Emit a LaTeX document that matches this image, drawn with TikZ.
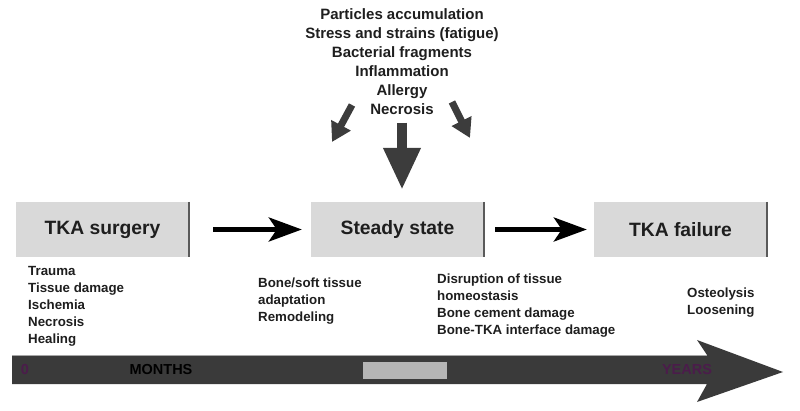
\documentclass[tikz,border=0pt]{standalone}
\usepackage{fontspec}
\setmainfont{Liberation Sans}
\usetikzlibrary{arrows.meta}
\definecolor{txt}{HTML}{1E1E1E}
\definecolor{boxgray}{HTML}{D9D9D9}
\definecolor{edgegray}{HTML}{5A5A5A}
\definecolor{darkarrow}{HTML}{3C3C3C}
\definecolor{band}{HTML}{3A3A3A}
\definecolor{midgray}{HTML}{B5B5B5}
\definecolor{plum}{HTML}{4B1C4B}
\begin{document}
\begin{tikzpicture}[x=1pt,y=-1pt,
  stagebox/.style={fill=boxgray, minimum width=173pt, minimum height=55pt, inner sep=0pt,
    font=\fontsize{19.3}{22}\selectfont\bfseries, text=txt},
  listtext/.style={anchor=north west, align=left, inner sep=0pt,
    font=\fontsize{13.3}{17}\selectfont\bfseries, text=txt},
  causetext/.style={align=center, inner sep=0pt,
    font=\fontsize{15}{19}\selectfont\bfseries, text=txt},
  flowarrow/.style={line width=4.5pt, black, -{Stealth[length=33pt,width=24pt,inset=8pt]}},
  fatarrow/.style={line width=10pt, darkarrow, -{Triangle[length=42pt,width=35pt]}},
  slimarrow/.style={line width=7pt, darkarrow, -{Triangle[length=19pt,width=21pt]}},
  shadowedge/.style={edgegray, line width=1.8pt},
  bandlabel/.style={inner sep=0pt, font=\fontsize{14.5}{16}\selectfont\bfseries}
]
\useasboundingbox (0,0) rectangle (800,411);

% causes
\node[causetext] (causes) at (402,61.4) {Particles accumulation\\Stress and strains (fatigue)\\Bacterial fragments\\Inflammation\\Allergy\\Necrosis};

% stage boxes
\node[stagebox] (surg) at (102.5,229.5) {TKA surgery};
\node[stagebox] (steady) at (397.5,229.5) {Steady state};
\node[stagebox] (fail) at (680.5,229.5) {TKA failure};
\draw[shadowedge] (surg.north east) -- (surg.south east);
\draw[shadowedge] (steady.north east) -- (steady.south east);
\draw[shadowedge] (fail.north east) -- (fail.south east);

% flow arrows
\draw[flowarrow] ([xshift=24pt]surg.east) -- ([xshift=-9pt]steady.west);
\draw[flowarrow] ([xshift=11pt]steady.east) -- ([xshift=-7pt]fail.west);

% cause arrows
\draw[fatarrow] ([yshift=-8pt]causes.south) -- ([xshift=4.5pt,yshift=12pt]steady.north);
\coordinate (lt) at (352,105);
\coordinate (lh) at (332,142);
\coordinate (rt) at (452,102);
\coordinate (rh) at (470,138);
\draw[slimarrow] (lt) -- (lh);
\draw[slimarrow] (rt) -- (rh);

% lists
\node[listtext] (l1) at (28,266.3) {Trauma\\Tissue damage\\Ischemia\\Necrosis\\Healing};
\node[listtext] (l2) at (258,278.1) {Bone/soft tissue\\adaptation\\Remodeling};
\node[listtext] (l3) at (437,274.1) {Disruption of tissue\\homeostasis\\Bone cement damage\\Bone-TKA interface damage};
\node[listtext] (l4) at (687,288.1) {Osteolysis\\Loosening};

% timeline
\fill[band] (12,355) -- (707,355) -- (697,340) -- (783,372) -- (697,402) -- (707,384) -- (12,384) -- cycle;
\draw[gray!70, line width=0.6pt] (12,355) -- (707,355);
\fill[midgray] (363,362) rectangle (447,379);
\node[bandlabel, text=plum] (zero) at (25,370) {0};
\node[bandlabel, text=black] (months) at (161,370) {MONTHS};
\node[bandlabel, text=plum] (years) at (687,370) {YEARS};
\end{tikzpicture}
\end{document}
